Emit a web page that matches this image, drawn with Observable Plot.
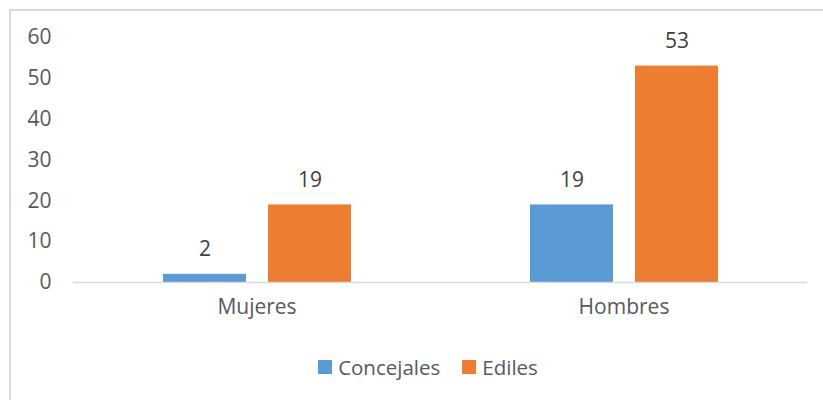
<!DOCTYPE html>
<html>
<head>
<meta charset="utf-8">
<script src="https://cdn.jsdelivr.net/npm/d3@7"></script>
<script src="https://cdn.jsdelivr.net/npm/@observablehq/plot@0.6"></script>
<style>
  body { margin: 0; background: #fff; width: 823px; height: 400px; overflow: hidden; position: relative; font-family: "Open Sans", sans-serif; }
  #frame { position: absolute; left: 9px; top: 9px; width: 900px; height: 500px; border: 2px solid #d9d9d9; pointer-events: none; }
  #chart { position: absolute; left: 0; top: 0; }
  #legend { position: absolute; left: 0; width: 856px; top: 353px; display: flex; justify-content: center; align-items: center; gap: 22px; font-size: 20.5px; color: #595959; }
  .item { display: flex; align-items: center; gap: 6px; }
  .sw { width: 14px; height: 14px; display: inline-block; }
</style>
</head>
<body>
<div id="chart"></div>
<div id="legend"></div>
<div id="frame"></div>
<script>
const categories = ["Mujeres", "Hombres"];
const series = ["Concejales", "Ediles"];
const concejales = [2, 19];
const ediles = [19, 53];
const yTicks = [0, 10, 20, 30, 40, 50, 60];
const colors = ["#5B9BD5", "#ED7D31"];

const data = [];
categories.forEach((c, i) => {
  data.push({cat: c, series: series[0], value: concejales[i]});
  data.push({cat: c, series: series[1], value: ediles[i]});
});

const plot = Plot.plot({
  width: 823,
  height: 340,
  marginTop: 37,
  marginBottom: 58,
  marginLeft: 73,
  marginRight: 16,
  style: {fontSize: "21px", fontFamily: "Open Sans, sans-serif", color: "#595959", background: "transparent"},
  fx: {domain: categories, padding: 0, label: null, tickSize: 0, tickPadding: 17},
  x: {domain: series, paddingInner: 0.21, paddingOuter: 0.85, axis: null},
  y: {domain: [0, 60], ticks: yTicks, label: null, tickSize: 0, tickPadding: 22, tickFormat: d => String(d)},
  color: {domain: series, range: colors},
  marks: [
    Plot.barY(data, {fx: "cat", x: "series", y: "value", fill: "series"}),
    Plot.ruleY([0], {stroke: "#d9d9d9", strokeWidth: 1.5}),
    Plot.text(data, {fx: "cat", x: "series", y: "value", text: d => String(d.value), dy: -25, fill: "#404040", fontSize: 21})
  ]
});
document.getElementById("chart").appendChild(plot);

const legend = document.getElementById("legend");
series.forEach((s, i) => {
  const item = document.createElement("div");
  item.className = "item";
  const sw = document.createElement("span");
  sw.className = "sw";
  sw.style.background = colors[i];
  const t = document.createElement("span");
  t.textContent = s;
  item.appendChild(sw);
  item.appendChild(t);
  legend.appendChild(item);
});
</script>
</body>
</html>
